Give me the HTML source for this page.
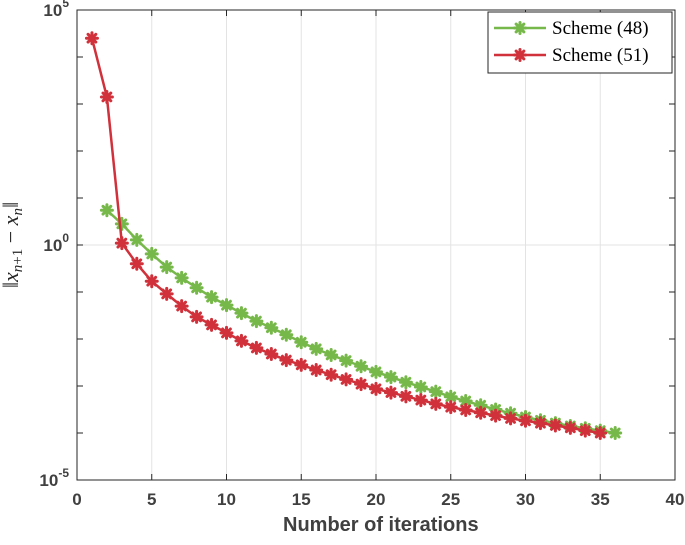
<!DOCTYPE html>
<html><head><meta charset="utf-8"><style>
body{margin:0;background:#fff}
svg text{font-family:"Liberation Sans",sans-serif}
</style></head><body>
<svg id="chart" width="685" height="540" viewBox="0 0 685 540">
<g id="grid"></g>
<g id="axes"></g>
<g id="series"></g>
<text x="283" y="531" font-size="20" font-weight="bold" fill="#404040">Number of iterations</text>
<text transform="translate(18,245) rotate(-90)" text-anchor="middle" font-size="22" fill="#262626" style="font-family:'Liberation Serif',serif">‖<tspan font-style="italic">x</tspan><tspan font-style="italic" font-size="15" dy="4">n</tspan><tspan font-size="15">+1</tspan><tspan dy="-4"> − </tspan><tspan font-style="italic">x</tspan><tspan font-style="italic" font-size="15" dy="4">n</tspan><tspan dy="-4">‖</tspan></text>
<g>
<rect x="488" y="12" width="184" height="61" fill="#fff" stroke="#262626" stroke-width="1"/>
<g id="legmarks"></g>
<text x="552" y="34" font-size="19" fill="#000" style="font-family:'Liberation Serif',serif">Scheme (48)</text>
<text x="552" y="61" font-size="19" fill="#000" style="font-family:'Liberation Serif',serif">Scheme (51)</text>
</g>
</svg>
<script>
const xTicks=[0,5,10,15,20,25,30,35,40];
const yDecades=[-5,0,5];
const iterGreen=[2,3,4,5,6,7,8,9,10,11,12,13,14,15,16,17,18,19,20,21,22,23,24,25,26,27,28,29,30,31,32,33,34,35,36];
const log10Green=[0.74,0.45,0.11,-0.19,-0.47,-0.70,-0.91,-1.11,-1.28,-1.45,-1.62,-1.76,-1.91,-2.07,-2.21,-2.34,-2.46,-2.58,-2.70,-2.81,-2.92,-3.02,-3.12,-3.23,-3.32,-3.41,-3.50,-3.58,-3.66,-3.73,-3.79,-3.85,-3.90,-3.95,-4.0];
const iterRed=[1,2,3,4,5,6,7,8,9,10,11,12,13,14,15,16,17,18,19,20,21,22,23,24,25,26,27,28,29,30,31,32,33,34,35];
const log10Red=[4.40,3.15,0.04,-0.40,-0.77,-1.04,-1.30,-1.53,-1.70,-1.87,-2.04,-2.19,-2.32,-2.45,-2.55,-2.66,-2.76,-2.86,-2.96,-3.06,-3.14,-3.22,-3.30,-3.38,-3.45,-3.51,-3.57,-3.63,-3.69,-3.74,-3.79,-3.84,-3.89,-3.95,-4.0];
const L=77,R=675,T=10,B=480;
const xs=v=>L+(v-0)/(40-0)*(R-L);
const ys=lg=>B-(lg+5)/10*(B-T);
const NS="http://www.w3.org/2000/svg";
function mk(tag,attrs,parent){const e=document.createElementNS(NS,tag);for(const k in attrs)e.setAttribute(k,attrs[k]);parent.appendChild(e);return e;}
const grid=document.getElementById('grid'),axes=document.getElementById('axes'),ser=document.getElementById('series');
mk('rect',{x:L,y:T,width:R-L,height:B-T,fill:'#fff'},grid);
xTicks.forEach(t=>{
  if(t>0&&t<40){const g=mk('line',{x1:xs(t),x2:xs(t),y1:T,y2:B,stroke:'#e3e3e3','stroke-width':1},grid);
  
  }
  mk('line',{x1:xs(t),x2:xs(t),y1:B,y2:B-6,stroke:'#262626'},axes);
  mk('line',{x1:xs(t),x2:xs(t),y1:T,y2:T+6,stroke:'#262626'},axes);
  const tx=mk('text',{x:xs(t),y:B+25,'text-anchor':'middle','font-size':17,'font-weight':'bold',fill:'#404040'},axes);
  tx.textContent=t;
  
  
});
const gl=mk('line',{x1:L,x2:R,y1:ys(0),y2:ys(0),stroke:'#e3e3e3'},grid);


for(let d=-5;d<=5;d++){
  mk('line',{x1:L,x2:L+6,y1:ys(d),y2:ys(d),stroke:'#262626'},axes);
  mk('line',{x1:R,x2:R-6,y1:ys(d),y2:ys(d),stroke:'#262626'},axes);
}
yDecades.forEach(d=>{
  const tx=mk('text',{x:L-8,y:ys(d)+6,'text-anchor':'end','font-size':17,'font-weight':'bold',fill:'#404040'},axes);
  tx.innerHTML='10<tspan font-size="12" dy="-9">'+d+'</tspan>';
  
  
});
mk('rect',{x:L,y:T,width:R-L,height:B-T,fill:'none',stroke:'#262626','stroke-width':1},axes);
function star(g,cx,cy,col){
  const r=5.5;
  for(let a=0;a<4;a++){const an=a*Math.PI/4;
    mk('line',{x1:cx-r*Math.cos(an),y1:cy-r*Math.sin(an),x2:cx+r*Math.cos(an),y2:cy+r*Math.sin(an),stroke:col,'stroke-width':3,'stroke-linecap':'round'},g);}
  mk('circle',{cx:cx,cy:cy,r:2.5,fill:col},g);
}
function series(xsArr,ysArr,col,name){
  const g=mk('g',{},ser);
  
  
  const pts=xsArr.map((x,i)=>xs(x)+','+ys(ysArr[i])).join(' ');
  mk('polyline',{points:pts,fill:'none',stroke:col,'stroke-width':2.5},g);
  xsArr.forEach((x,i)=>star(g,xs(x),ys(ysArr[i]),col));
}
series(iterGreen,log10Green,'#77b84a','series-scheme-48');
series(iterRed,log10Red,'#d0313a','series-scheme-51');
const lm=document.getElementById('legmarks');
[[28,'#77b84a'],[55,'#d0313a']].forEach(([y,c])=>{
  mk('line',{x1:494,x2:546,y1:y,y2:y,stroke:c,'stroke-width':2.5},lm);
  star(lm,520,y,c);
});
</script>
</body></html>
